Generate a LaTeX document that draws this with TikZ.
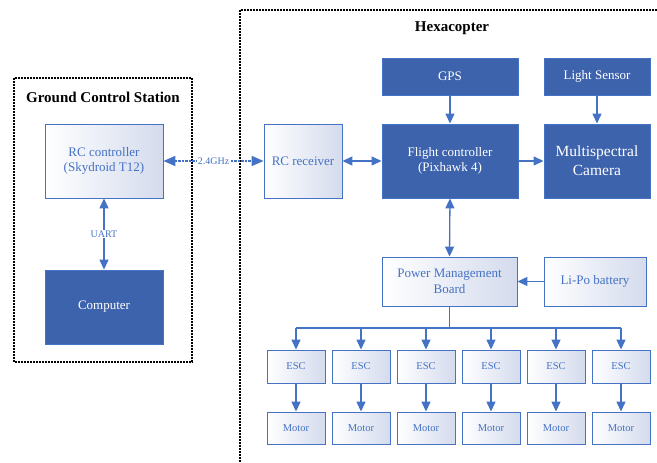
\documentclass[tikz,border=0pt]{standalone}
\usepackage{fontspec}
\setmainfont{Liberation Serif}
\usetikzlibrary{arrows.meta}
\definecolor{dkblue}{RGB}{62,99,173}
\definecolor{edgeblue}{RGB}{68,114,196}
\definecolor{lightbg}{RGB}{212,219,237}
\tikzset{
  box/.style={draw=edgeblue, line width=0.9pt, inner sep=0pt, align=center, anchor=center},
  lightbox/.style={box, left color=white, right color=lightbg, text=edgeblue},
  darkbox/.style={box, fill=dkblue, text=white},
  bigtxt/.style={font=\fontsize{13}{15.5}\selectfont},
  camtxt/.style={font=\fontsize{15.5}{19}\selectfont},
  smalltxt/.style={font=\fontsize{10.5}{12}\selectfont},
  titletxt/.style={font=\fontsize{15}{18}\selectfont\bfseries},
  lbl/.style={font=\fontsize{10}{12}\selectfont, text=edgeblue, fill=white, inner sep=1pt},
  conn/.style={draw=edgeblue, line width=1.3pt},
  arr/.style={conn, -{Triangle[length=10pt,width=9pt]}},
  darr/.style={conn, {Triangle[length=10pt,width=9pt]}-{Triangle[length=10pt,width=9pt]}},
  dotarr/.style={conn, line width=1.9pt, dash pattern=on 2.5pt off 1pt, {Triangle[length=12pt,width=10pt]}-{Triangle[length=12pt,width=10pt]}},
  frame/.style={draw=black, line width=1.1pt, dash pattern=on 2pt off 1pt}
}
\begin{document}
\begin{tikzpicture}[x=1pt,y=-1pt]
\clip (0,0) rectangle (657,463);
\fill[white] (0,0) rectangle (657,463);
% frames
\draw[frame] (14,78) rectangle (192,362);
\draw[frame] (240,10) rectangle (720,520);
\node[titletxt] (gcstitle) at (103,97) {Ground Control Station};
\node[titletxt] (hextitle) at (452,28) {Hexacopter};
% ground station
\node[lightbox, bigtxt, minimum width=118pt, minimum height=74pt] (rcc) at (104,161) {RC controller\\(Skydroid T12)};
\node[darkbox, bigtxt, minimum width=118pt, minimum height=74pt] (comp) at (104,307) {Computer};
% hexacopter
\node[lightbox, bigtxt, minimum width=78pt, minimum height=74pt] (rcr) at (303,161) {RC receiver};
\node[darkbox, bigtxt, minimum width=136pt, minimum height=74pt] (fc) at (450,161) {Flight controller\\(Pixhawk 4)};
\node[darkbox, bigtxt, minimum width=136pt, minimum height=37pt] (gps) at (450,76.5) {GPS};
\node[darkbox, bigtxt, minimum width=106pt, minimum height=37pt] (ls) at (597,76.5) {Light Sensor};
\node[darkbox, camtxt, minimum width=106pt, minimum height=74pt] (cam) at (597,161) {Multispectral\\Camera};
\node[lightbox, bigtxt, minimum width=135pt, minimum height=49pt] (pmb) at (449.5,281.5) {Power Management\\Board};
\node[lightbox, bigtxt, minimum width=102pt, minimum height=49pt] (lipo) at (595,281.5) {Li-Po battery};
\foreach \i in {1,...,6}{
  \pgfmathsetmacro{\xx}{296+65*(\i-1)}
  \node[lightbox, smalltxt, minimum width=58pt, minimum height=33pt] (esc\i) at (\xx,366.5) {ESC};
  \node[lightbox, smalltxt, minimum width=58pt, minimum height=32pt] (mot\i) at (\xx,428) {Motor};
}
\coordinate (bus) at (450,328);
% connectors
\draw[darr] (rcc.south) -- node[lbl] {UART} (comp.north);
\draw[dotarr] (rcc.east) -- node[lbl] {2.4GHz} (rcr.west);
\draw[darr] (rcr.east) -- (fc.west);
\draw[arr] (gps.south) -- (fc.north);
\draw[arr] (ls.south) -- (cam.north);
\draw[arr] (fc.east) -- (cam.west);
\draw[darr] (fc.south) -- (pmb.north);
\draw[arr] (lipo.west) -- (pmb.east);
\draw[conn] (pmb.south) -- (pmb.south |- bus);
\draw[conn] (esc1.north |- bus) -- (esc6.north |- bus);
\foreach \i in {1,...,6}{
  \draw[arr] (esc\i.north |- bus) -- (esc\i.north);
  \draw[arr] (esc\i.south) -- (mot\i.north);
}
\end{tikzpicture}
\end{document}
